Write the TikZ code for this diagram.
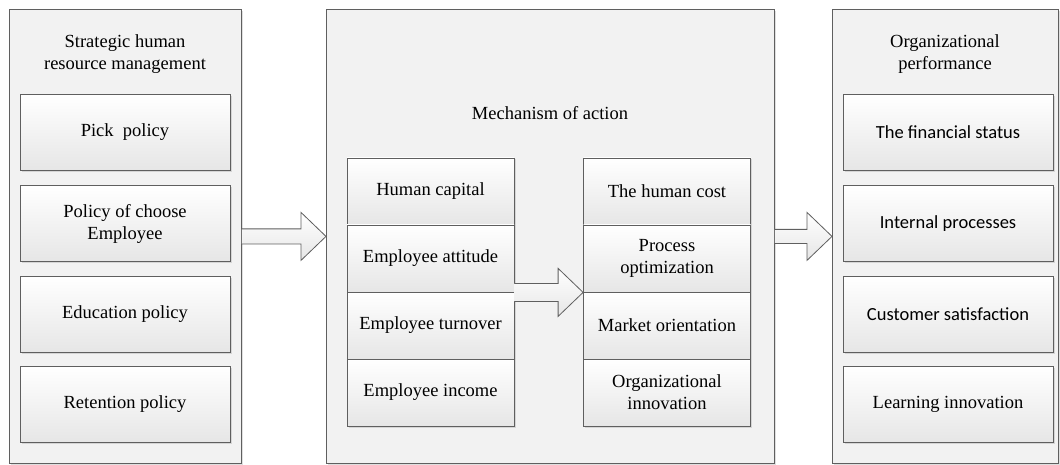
\documentclass[tikz,border=0pt]{standalone}
\usepackage{fontspec}
\setmainfont{Liberation Serif}
\newfontfamily\calibri{Carlito}
\usetikzlibrary{calc}
\usetikzlibrary{shadows}
\definecolor{framegray}{RGB}{95,95,95}
\definecolor{panelfill}{RGB}{242,242,242}
\definecolor{boxbottom}{RGB}{230,230,230}
\tikzset{softshadow/.style={drop shadow={shadow xshift=1.5pt,shadow yshift=-1.5pt,opacity=0.25}}}
\tikzset{panel/.style={fill=panelfill,draw=framegray,line width=0.8pt,softshadow,anchor=north west,minimum height=454pt,inner sep=0pt}}
\tikzset{item/.style={draw=framegray,line width=0.8pt,top color=white,bottom color=boxbottom,softshadow,minimum width=210pt,minimum height=76pt,align=center,inner sep=0pt,font=\fontsize{18.5}{22}\selectfont}}
\tikzset{cell/.style={item,minimum width=167pt,minimum height=67pt}}
\tikzset{title/.style={align=center,font=\fontsize{18.5}{22}\selectfont}}
\tikzset{blockarrow/.style={draw=framegray,line width=0.8pt,top color=white,bottom color=boxbottom,line join=miter}}
% block arrow from #1 to #2, shaft half height #3
\newcommand{\blockarrow}[3]{%
  \draw[blockarrow] ($(#1)+(0,-#3)$) -- ($(#2)+(-25,-#3)$) -- ($(#2)+(-25,-24)$) -- (#2)
    -- ($(#2)+(-25,24)$) -- ($(#2)+(-25,#3)$) -- ($(#1)+(0,#3)$);}

\begin{document}
\begin{tikzpicture}[x=1pt,y=-1pt]
\useasboundingbox (0,0) rectangle (1060,465);
% panels
\node[panel,minimum width=232pt] (L) at (9,9) {};
\node[panel,minimum width=448pt] (M) at (326,9) {};
\node[panel,minimum width=226pt] (R) at (832,9) {};
\node[title] (Ltitle) at (125,54) {Strategic human\\resource management};
\node[title] (Mtitle) at (550,113) {Mechanism of action};
\node[title] (Rtitle) at (945,54) {Organizational\\performance};
% strategic HRM
\node[item] (pick) at (125,132.5) {Pick\ \ policy};
\node[item] (choose) at (125,223.5) {Policy of choose\\Employee};
\node[item] (edu) at (125,314.5) {Education policy};
\node[item] (ret) at (125,404.5) {Retention policy};
% mechanism
\node[cell] (cap) at (430.5,191.5) {Human capital};
\node[cell] (att) at (430.5,258.5) {Employee attitude};
\node[cell] (turn) at (430.5,325.5) {Employee turnover};
\node[cell] (inc) at (430.5,392.5) {Employee income};
\node[cell] (cost) at (667,191.5) {The human cost};
\node[cell] (proc) at (667,258.5) {Process\\optimization};
\node[cell] (mkt) at (667,325.5) {Market orientation};
\node[cell] (innov) at (667,392.5) {Organizational\\innovation};
% performance
\node[item,font=\fontsize{18.5}{22}\calibri] (fin) at (948,132.5) {The financial status};
\node[item,font=\fontsize{18.5}{22}\calibri] (intp) at (948,223.5) {Internal processes};
\node[item,font=\fontsize{18.5}{22}\calibri] (cust) at (948,314.5) {Customer satisfaction};
\node[item] (learn) at (948,404.5) {Learning innovation};
% arrows
\blockarrow{L.east}{M.west}{7.5}
\blockarrow{att.south east}{proc.south west}{9}
\blockarrow{M.east}{R.west}{7}
\end{tikzpicture}
\end{document}
